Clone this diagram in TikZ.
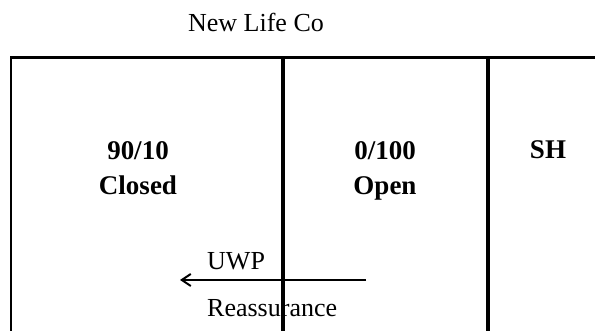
\documentclass[tikz,border=0pt]{standalone}
\usepackage{fontspec}
\setmainfont{Liberation Serif}
\usetikzlibrary{arrows.meta}
\begin{document}
\begin{tikzpicture}[x=1pt,y=1pt,
  rule/.style={line width=2.2pt,line cap=rect},
  divider/.style={line width=4pt},
  plainlbl/.style={font=\fontsize{26}{30}\selectfont,inner sep=0pt},
  boldlbl/.style={font=\fontsize{27}{35}\selectfont\bfseries,inner sep=0pt,align=center},
  flow/.style={line width=2pt,-{Straight Barb[length=9pt,width=12pt,line width=2pt]}}]
\useasboundingbox (0,0) rectangle (595,331);
\fill[white] (0,0) rectangle (595,331);
% frame coordinates
\coordinate (tl) at (11,273.5);
\coordinate (tr) at (597,273.5);
\coordinate (bl) at (11,-3);
\coordinate (mt) at (283,273.5);
\coordinate (mb) at (283,-3);
\coordinate (rt) at (488,273.5);
\coordinate (rb) at (488,-3);
\draw[rule] (bl) -- (tl) -- (tr);
\draw[divider] (mt) -- (mb);
\draw[divider] (rt) -- (rb);
% title
\node[plainlbl,anchor=base] (title) at (256,299) {New Life Co};
% column labels
\node[boldlbl,anchor=base] (closedA) at (138,171) {90/10};
\node[boldlbl,anchor=base] (closedB) at (138,136) {Closed};
\node[boldlbl,anchor=base] (openA) at (385,171) {0/100};
\node[boldlbl,anchor=base] (openB) at (385,136) {Open};
\node[boldlbl,anchor=base] (sh) at (548,172) {SH};
% arrow
\coordinate (astart) at (366,51);
\coordinate (aend) at (180,51);
\draw[flow] (astart) -- (aend);
\node[plainlbl,anchor=base west] (uwp) at (207,61) {UWP};
\node[plainlbl,anchor=base west] (reass) at (207,14) {Reassurance};
\end{tikzpicture}
\end{document}
